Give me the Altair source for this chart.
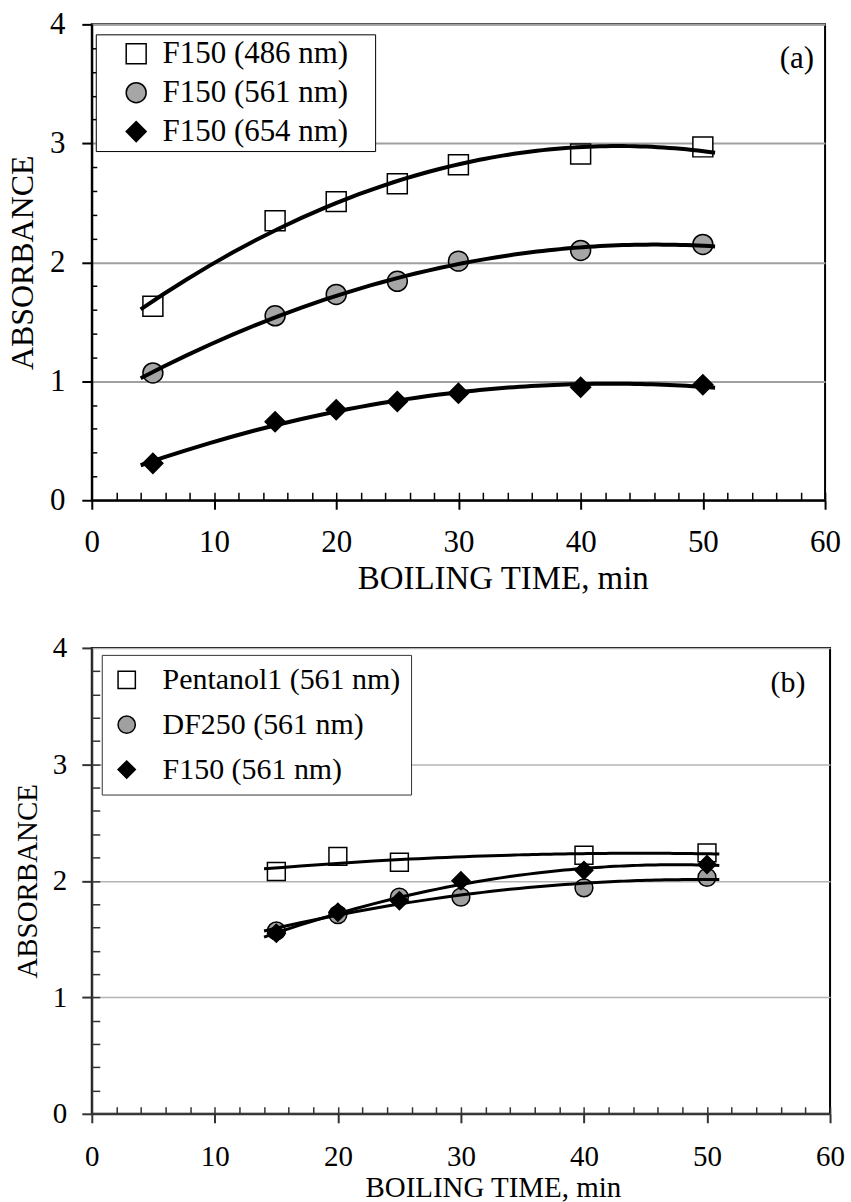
import altair as alt
import pandas as pd

FONT = "Liberation Serif"

# ---------------- Panel (a) data ----------------
time_a = [5, 15, 20, 25, 30, 40, 50]
f150_486 = [1.63, 2.35, 2.51, 2.66, 2.82, 2.91, 2.97]
f150_561 = [1.07, 1.55, 1.73, 1.84, 2.01, 2.10, 2.15]
f150_654 = [0.31, 0.66, 0.76, 0.83, 0.90, 0.95, 0.97]
names_a = ["F150 (486 nm)", "F150 (561 nm)", "F150 (654 nm)"]

# ---------------- Panel (b) data ----------------
time_pent = [15, 20, 25, 40, 50]
pent_561 = [2.08, 2.21, 2.16, 2.22, 2.24]
time_b = [15, 20, 25, 30, 40, 50]
df250_561 = [1.57, 1.71, 1.86, 1.86, 1.94, 2.03]
f150b_561 = [1.55, 1.73, 1.83, 2.00, 2.09, 2.14]
names_b = ["Pentanol1 (561 nm)", "DF250 (561 nm)", "F150 (561 nm)"]

x_major = [0, 10, 20, 30, 40, 50, 60]
x_minor = [0, 2, 4, 6, 8, 10, 12, 14, 16, 18, 20, 22, 24, 26, 28, 30, 32, 34,
           36, 38, 40, 42, 44, 46, 48, 50, 52, 54, 56, 58, 60]
y_major = [0, 1, 2, 3, 4]
y_minor = [0.2, 0.4, 0.6, 0.8, 1.2, 1.4, 1.6, 1.8, 2.2, 2.4, 2.6, 2.8,
           3.2, 3.4, 3.6, 3.8]
y_minor_b = [0.2, 0.4, 0.6, 0.8, 1.0, 1.2, 1.4, 1.6, 1.8, 2.0, 2.2, 2.4, 2.6,
             2.8, 3.0, 3.2, 3.4, 3.6, 3.8]


def build_df(times, values, names):
    rows = []
    for t, v, n in zip(times, values, names):
        for ti, vi in zip(t, v):
            rows.append({"t": ti, "a": vi, "series": n})
    return pd.DataFrame(rows)


df_a = build_df([time_a, time_a, time_a], [f150_486, f150_561, f150_654], names_a)
df_b = build_df([time_pent, time_b, time_b], [pent_561, df250_561, f150b_561], names_b)


def panel(df, names, fills, p):
    xs = alt.Scale(domain=[0, 60], nice=False)
    ys = alt.Scale(domain=[0, 4], nice=False)
    base = alt.Chart(df)

    minor = base.mark_point(opacity=0).encode(
        x=alt.X("t:Q", scale=xs, axis=alt.Axis(
            orient="bottom", values=x_minor, offset=-p["xin"], tickSize=p["xin"],
            domain=False, labels=False, grid=False, title=None,
            tickColor=p["ink"], tickWidth=1.5)),
        y=alt.Y("a:Q", scale=ys, axis=alt.Axis(
            orient="left", values=p["yminor"], offset=-p["yin"], tickSize=p["yin"],
            domain=False, labels=False, grid=False, title=None,
            tickColor=p["ink"], tickWidth=1.5)),
    )

    leg = alt.Legend(
        title=None, orient="none", legendX=p["lx"], legendY=p["ly"],
        strokeColor=p["ink"], fillColor="white", padding=p["lpad"],
        labelFont=FONT, labelFontSize=p["lfs"], labelColor="black",
        symbolSize=p["lsym"], symbolStrokeColor="black", symbolStrokeWidth=1.5,
        rowPadding=p["lrow"], labelOffset=p["loff"], symbolOffset=p["soff"],
        labelLimit=500, labelExpr=p["lexpr"],
    )

    points = base.mark_point(filled=True, size=p["pt"], strokeWidth=1.5,
                             opacity=1).encode(
        x=alt.X("t:Q", scale=xs, axis=alt.Axis(
            orient="bottom", values=x_major, tickSize=p["xout"], grid=False,
            labelFont=FONT, labelFontSize=p["tfs"], labelColor="black",
            labelPadding=p["xlp"], labelFlush=False,
            title="BOILING TIME, min", titleFont=FONT, titleFontSize=p["xts"],
            titleFontWeight="normal", titleColor="black", titlePadding=p["xtp"],
            titleX=p["xtx"], titleAlign="center",
            domainColor=p["ink"], domainWidth=2, tickColor=p["ink"], tickWidth=2)),
        y=alt.Y("a:Q", scale=ys, axis=alt.Axis(
            orient="left", values=y_major, tickSize=10, grid=True,
            gridColor=p["grid"], gridWidth=p["gw"],
            labelFont=FONT, labelFontSize=p["tfs"], labelColor="black",
            labelPadding=p["ylp"],
            title="ABSORBANCE", titleFont=FONT, titleFontSize=p["yts"],
            titleFontWeight="normal", titleColor="black", titlePadding=p["ytp"],
            domainColor=p["ink"], domainWidth=2, tickColor=p["ink"], tickWidth=2)),
        shape=alt.Shape("series:N", scale=alt.Scale(
            domain=names, range=["square", "circle", "diamond"]), legend=leg),
        fill=alt.Fill("series:N", scale=alt.Scale(domain=names, range=fills), legend=leg),
        stroke=alt.Stroke("series:N", scale=alt.Scale(
            domain=names, range=["black", "black", "black"]), legend=leg),
    )

    lines = base.transform_regression(
        "t", "a", groupby=["series"], method="poly", order=2, extent=p["ext"]
    ).mark_line(color="black", strokeWidth=p["lw"]).encode(
        x=alt.X("t:Q", scale=xs, axis=None),
        y=alt.Y("a:Q", scale=ys, axis=None),
        detail="series:N",
    )

    text = alt.Chart(pd.DataFrame({"lab": [p["label"]]})).mark_text(
        font=FONT, fontSize=p["lfs"], align="right", baseline="middle", color="black"
    ).encode(
        x=alt.XDatum(p["labx"], scale=xs, axis=None),
        y=alt.YDatum(p["laby"], scale=ys, axis=None),
        text="lab:N",
    )

    return alt.layer(minor, points, lines, text).resolve_axis(
        x="independent", y="independent"
    ).properties(width=p["w"], height=p["h"])


pa = panel(df_a, names_a, ["white", "#a6a6a6", "black"], dict(
    w=735, h=477, ink="black", grid="#a0a0a0", gw=2,
    xin=8, yin=5, yminor=y_minor, xout=9, xlp=18, xts=33, xtp=5, xtx=412,
    tfs=31, ylp=17, yts=32, ytp=10,
    lx=4, ly=10, lpad=4, lfs=31, lsym=400, lrow=7, loff=11, soff=21,
    lexpr="datum.label + '\u2800'",
    pt=400, lw=4, ext=[4, 51], label="(a)", labx=59.1, laby=3.71))

pb = panel(df_b, names_b, ["white", "#a0a0a0", "black"], dict(
    w=740, h=467, ink="#333333", grid="#b4b4b4", gw=1.5,
    xin=7, yin=8, yminor=y_minor_b, xout=9, xlp=20, xts=29, xtp=2, xtx=402,
    tfs=29, ylp=15, yts=29, ytp=10,
    lx=10, ly=7, lpad=10, lfs=30, lsym=300, lrow=15, loff=21, soff=0,
    lexpr="datum.label",
    pt=320, lw=3, ext=[14, 51], label="(b)", labx=58.0, laby=3.70))

chart = alt.vconcat(pa, pb, spacing=37).resolve_scale(
    x="independent", y="independent", shape="independent", fill="independent",
    stroke="independent"
).resolve_legend(
    shape="independent", fill="independent", stroke="independent"
).configure_view(
    stroke="black", strokeWidth=2
).properties(
    padding={"left": 5, "top": 6, "right": 5, "bottom": 0},
    background="white",
)

chart.save("out.html", embed_options={"renderer": "svg", "actions": False})
